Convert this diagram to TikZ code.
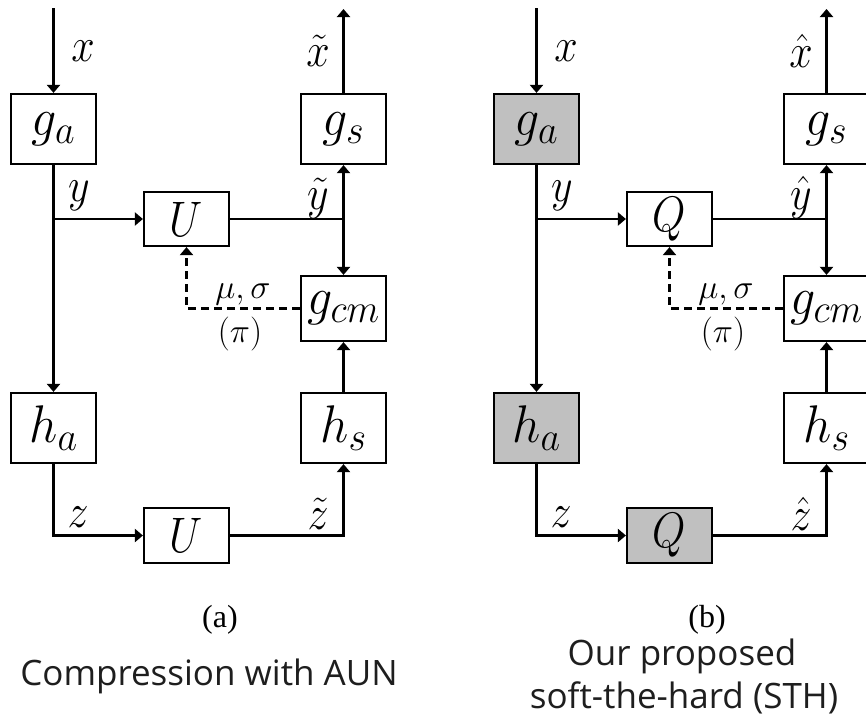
\documentclass[tikz,border=0pt]{standalone}
\usepackage{fix-cm}
\usepackage{graphicx}
\usepackage{fontspec}
\newfontfamily\capfont{Open Sans}
\newfontfamily\subfont{Liberation Serif}
\usetikzlibrary{arrows.meta}
\definecolor{blockgray}{RGB}{192,192,192}
\definecolor{captext}{RGB}{30,30,30}
% block names carry large subscripts
\DeclareMathSizes{50}{50}{38}{28}

% slightly tall math, as set in the figure
\newcommand{\blocktext}[1]{\scalebox{1}[1.06]{$#1$}}
\newcommand{\quanttext}[1]{\scalebox{1}[1.16]{$#1$}}
\newcommand{\signaltext}[1]{\scalebox{1}[1.14]{$#1$}}

% One codec diagram: #1 name prefix, #2 fill of the analysis blocks,
% #3 quantiser symbol, #4 accent for the reconstructed signals
\newcommand{\codecpanel}[4]{%
  \begin{scope}[name prefix=#1-]
    % blocks
    \node[blk, fill=#2] (ga)  at (53.5,129)   {\blocktext{g_a}};
    \node[blk]          (gs)  at (343.5,129)  {\blocktext{g_s}};
    \node[qblk]         (q1)  at (186.5,219)  {\quanttext{#3}};
    \node[blk, minimum height=65pt] (gcm) at (343.5,308.5) {\blocktext{g_{cm}}};
    \node[blk, fill=#2] (ha)  at (53.5,428)   {\blocktext{h_a}};
    \node[blk]          (hs)  at (343.5,428)  {\blocktext{h_s}};
    \node[qblk, fill=#2, minimum height=55pt] (q2) at (186.5,535.5) {\quanttext{#3}};
    % free ends and branch points
    \coordinate (in)  at (53.5,8);
    \coordinate (out) at (343.5,9);
    \coordinate (yb)  at (53.5,219);
    \coordinate (yj)  at (343.5,219);
    % main flow
    \draw[arr] (in) -- (ga.north);
    \draw[arr] (gs.north) -- (out);
    \draw[arr] (ga.south) -- (ha.north);
    \draw[arr] (yb) -- (q1.west);
    \draw[wire] (q1.east) -- (yj);
    \draw[arr] (yj) -- (gs.south);
    \draw[arr] (yj) -- (gcm.north);
    \draw[arr] (hs.north) -- (gcm.south);
    \draw[arr] (ha.south) |- (q2.west);
    \draw[arr] (q2.east) -| (hs.south);
    % entropy-model parameters back to the quantiser
    \draw[arr, dashed, dash pattern=on 8pt off 5pt] (gcm.west) -| (q1.south);
    % signal labels
    \node[lbl] (lx)  at (83,51)   {\signaltext{x}};
    \node[lbl] (lxr) at (318,51)  {\signaltext{#4{x}}};
    \node[lbl] (ly)  at (79,196)  {\signaltext{y}};
    \node[lbl] (lyr) at (318,198) {\signaltext{#4{y}}};
    \node[lbl] (lz)  at (78,517)  {\signaltext{z}};
    \node[lbl] (lzr) at (318,514) {\signaltext{#4{z}}};
    \node[plbl] (lms) at (243,294) {$\mu,\sigma$};
    \node[plbl] (lpi) at (240,334) {$(\pi)$};
  \end{scope}}

\begin{document}
\begin{tikzpicture}[x=1pt,y=-1pt,
  wire/.style={line width=2.2pt},
  arr/.style={wire, -{Triangle[length=8pt,width=13pt]}},
  blk/.style={draw, line width=2.2pt, fill=white, minimum width=85pt,
    minimum height=70pt, inner sep=0pt, font=\fontsize{50}{50}\selectfont},
  qblk/.style={blk, minimum height=54pt, font=\fontsize{43}{43}\selectfont},
  lbl/.style={inner sep=0pt, font=\fontsize{42}{42}\selectfont},
  plbl/.style={inner sep=0pt, font=\fontsize{34}{34}\selectfont},
  sublbl/.style={anchor=base, inner sep=0pt, font=\subfont\fontsize{32}{32}\selectfont},
  captxt/.style={anchor=base, inner sep=0pt, text=captext,
    font=\capfont\fontsize{35}{35}\selectfont}]
  \path[use as bounding box, clip] (0,0) rectangle (866,715);

  % (a) additive uniform noise
  \codecpanel{a}{white}{U}{\tilde}
  \node[sublbl] (suba) at (220,627) {(a)};
  \node[captxt] (capa) at (209,685) {Compression with AUN};

  % (b) soft-to-hard quantisation
  \begin{scope}[xshift=483pt]
    \codecpanel{b}{blockgray}{Q}{\hat}
  \end{scope}
  \node[sublbl] (subb) at (707,627) {(b)};
  \node[captxt] (capb1) at (682,665) {Our proposed};
  \node[captxt] (capb2) at (684,708) {soft-the-hard (STH)};
\end{tikzpicture}
\end{document}
